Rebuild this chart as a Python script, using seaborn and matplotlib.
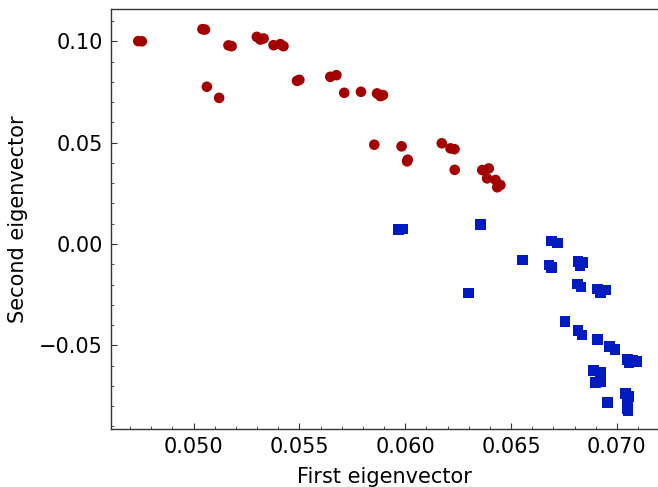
import numpy as np
import pandas as pd
import matplotlib
matplotlib.use("Agg")
import matplotlib.pyplot as plt
import seaborn as sns
from matplotlib.ticker import MultipleLocator, FormatStrFormatter, FuncFormatter

# Projection of each sample onto the first two eigenvectors
group_a_x = [0.04739, 0.04756, 0.05042, 0.05054, 0.05165, 0.05180,
             0.05063, 0.05121,
             0.05299, 0.05331, 0.05315, 0.05378, 0.05410, 0.05425,
             0.05489, 0.05500, 0.05646, 0.05675, 0.05712, 0.05791,
             0.05867, 0.05883, 0.05895, 0.05854, 0.05983, 0.06009,
             0.06012, 0.06173, 0.06214, 0.06233, 0.06234, 0.06364,
             0.06395, 0.06387, 0.06427, 0.06450, 0.06435]
group_a_y = [0.1001, 0.1000, 0.1060, 0.1058, 0.0980, 0.0976,
             0.0776, 0.0721,
             0.1022, 0.1014, 0.1009, 0.0981, 0.0986, 0.0976,
             0.0805, 0.0810, 0.0825, 0.0833, 0.0746, 0.0751,
             0.0743, 0.0730, 0.0735, 0.0490, 0.0482, 0.0408,
             0.0416, 0.0497, 0.0472, 0.0468, 0.0366, 0.0365,
             0.0373, 0.0324, 0.0316, 0.0291, 0.0280]

group_b_x = [0.05969, 0.05990, 0.06357, 0.06690, 0.06719, 0.06554,
             0.06679, 0.06690, 0.06816, 0.06837, 0.06825, 0.06300,
             0.06813, 0.06830, 0.06908, 0.06931, 0.06947, 0.06923,
             0.06756, 0.06816, 0.06835, 0.06909, 0.06966, 0.06991,
             0.07050, 0.07073, 0.07094, 0.07057, 0.06891, 0.06923,
             0.06900, 0.06926, 0.06957, 0.07042, 0.07057, 0.07050,
             0.07050, 0.07052]
group_b_y = [0.0072, 0.0074, 0.0097, 0.0016, 0.0006, -0.0079,
             -0.0104, -0.0115, -0.0087, -0.0090, -0.0107, -0.0242,
             -0.0197, -0.0211, -0.0222, -0.0227, -0.0227, -0.0240,
             -0.0381, -0.0426, -0.0449, -0.0470, -0.0506, -0.0521,
             -0.0569, -0.0575, -0.0580, -0.0585, -0.0623, -0.0635,
             -0.0684, -0.0680, -0.0783, -0.0736, -0.0753, -0.0756,
             -0.0810, -0.0822]

x_label = "First eigenvector"
y_label = "Second eigenvector"

df = pd.DataFrame({
    "first": group_a_x + group_b_x,
    "second": group_a_y + group_b_y,
    "group": ["A"] * len(group_a_x) + ["B"] * len(group_b_x),
})

sns.set_style("white")
plt.rcParams["font.family"] = ["DejaVu Sans"]
plt.rcParams["text.color"] = "black"
plt.rcParams["axes.labelcolor"] = "black"
plt.rcParams["xtick.color"] = "black"
plt.rcParams["ytick.color"] = "black"

fig = plt.figure(figsize=(6.58, 4.87), dpi=100)
ax = fig.add_axes([0.169, 0.1201, 0.8318, 0.8604])

sns.scatterplot(
    data=df, x="first", y="second", hue="group", style="group",
    palette={"A": "#a30000", "B": "#001bbf"},
    markers={"A": "o", "B": "s"},
    s=58, linewidth=0, legend=False, ax=ax,
)

ax.set_xlim(0.04611, 0.07197)
ax.set_ylim(-0.0910, 0.1157)

ax.xaxis.set_major_locator(MultipleLocator(0.005))
ax.xaxis.set_minor_locator(MultipleLocator(0.001))
ax.yaxis.set_major_locator(MultipleLocator(0.05))
ax.yaxis.set_minor_locator(MultipleLocator(0.01))
ax.xaxis.set_major_formatter(FormatStrFormatter("%.3f"))
ax.yaxis.set_major_formatter(FuncFormatter(
    lambda v, p: ("\u2212" if v < -1e-9 else "") + f"{abs(v):.2f}"))

ax.tick_params(which="both", direction="in", top=False, right=False,
               bottom=True, left=True, labelsize=15,
               color="#333333", labelcolor="black")
ax.tick_params(which="major", length=4, width=0.8, pad=6)
ax.tick_params(which="minor", length=2, width=0.6)

for side in ["left", "bottom", "top", "right"]:
    ax.spines[side].set_color("#333333")
    ax.spines[side].set_linewidth(1.0)

ax.set_xlabel(x_label, fontsize=15, labelpad=7, color="black")
ax.set_ylabel(y_label, fontsize=15, labelpad=8, color="black")

fig.savefig("out.png", dpi=100)
